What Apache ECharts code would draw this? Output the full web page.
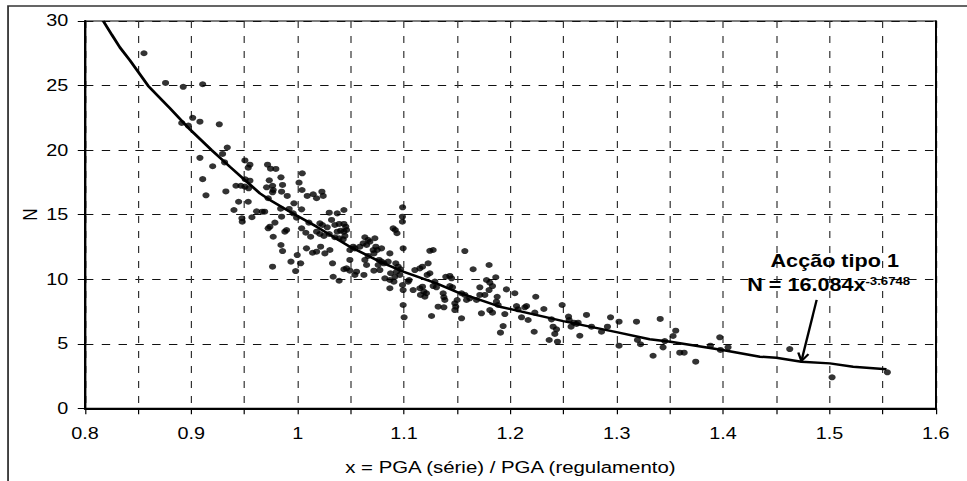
<!DOCTYPE html>
<html>
<head>
<meta charset="utf-8">
<script src="https://cdn.jsdelivr.net/npm/echarts@6/dist/echarts.min.js"></script>
<style>
html,body{margin:0;padding:0;background:#fff;overflow:hidden;}
#wrap{width:967px;height:481px;overflow:hidden;position:relative;background:#fff;}
#chart{width:806px;height:481px;transform:scaleX(1.2);transform-origin:0 0;}
</style>
</head>
<body>
<div id="wrap"><div id="chart"></div></div>
<script>
// ---- data ----
const pgaRatio = [
0.8555,0.8758,0.8924,0.9107,0.891,0.8972,0.9013,0.9081,0.9263,0.9338,0.9294,0.9081,0.9313,0.9201,0.9107,0.9325,0.9138,0.9504,0.9551,0.9535,
0.9507,0.9551,0.942,0.9466,0.9504,0.9539,0.9445,0.9535,0.9401,0.9476,0.9479,0.957,0.9614,
0.9717,0.9745,0.9795,0.9843,0.9733,0.9708,0.9764,0.977,0.9764,0.9858,0.9849,0.9902,0.9723,0.9739,0.9723,0.9786,0.977,0.9843,0.9858,0.9764,
0.984,0.9849,0.992,0.9965,0.9958,0.9896,0.988,1.0043,1.0013,1.0041,1.009,1.0146,1.0178,1.0228,1.024,1.0037,0.999,1.0037,1.0077,1.0122,
1.0083,1.014,1.0178,1.0216,1.0256,0.9996,0.9937,1.0028,0.9981,1.0209,1.0297,1.0372,1.0435,0.9667,0.969,1.0987,1.0985,1.0985,1.0106,1.0233,
1.0178,1.0209,1.0278,1.0297,1.0247,1.0319,1.035,1.039,1.0372,1.0404,1.0435,1.0452,1.0435,1.046,1.0444,1.0428,1.035,1.039,1.0918,1.0934,
1.0632,1.0663,1.0616,1.0648,1.0585,1.0538,1.0491,1.0522,1.0726,1.0735,1.0748,1.071,1.0717,1.0303,1.0328,1.0334,1.039,1.0435,1.046,1.0491,
1.0538,1.0554,1.0623,1.0717,1.0757,1.0766,1.0632,1.0663,1.0648,1.0491,
1.0679,1.0789,1.0898,1.0992,1.0992,1.1001,1.0867,1.0789,1.0811,1.0851,1.0773,1.082,1.0867,1.0905,1.0914,1.0874,1.093,1.0961,1.0968,1.0945,
1.0923,1.0867,1.0992,1.0986,1.1039,1.1048,1.1086,1.1149,1.1174,1.1187,1.1155,1.1196,1.1211,1.1102,1.1149,1.1174,1.1227,1.1243,1.1218,1.1243,
1.1274,1.1259,1.129,1.1274,1.1305,1.1321,1.1368,1.1375,1.1384,1.1375,1.1393,1.1431,1.1447,1.1431,1.1456,1.1478,1.1487,1.1478,1.15,1.1541,
1.1572,1.1588,1.1541,1.1572,1.165,1.1619,1.1682,1.1713,1.176,1.18,1.1713,1.1776,1.1807,1.1863,1.18,1.1728,1.1807,1.1832,1.1869,1.1885,
1.1832,1.1963,1.2042,1.1876,1.2058,1.2073,1.2136,1.2152,1.2105,1.2167,1.2239,1.223,1.2224,1.2315,1.2387,1.2402,1.2418,1.2434,1.2365,1.2443,
1.2487,1.2547,1.2553,1.2571,1.2597,1.2622,1.2637,1.2653,1.2716,1.2763,1.2857,1.2913,1.2942,1.3022,1.3022,1.3186,1.3195,1.3224,1.1948,1.1932,1.1907,
1.3409,1.3342,1.3436,1.3452,1.353,1.3555,1.3593,1.3634,1.3743,1.3881,1.3969,1.3975,1.4047,1.4627,1.5025,1.5545
];
const nCycles = [
27.5,25.2,24.9,25.1,22.1,21.9,22.5,22.2,22.0,20.2,19.7,19.4,19.05,18.75,17.75,16.8,16.5,19.2,18.87,18.64,
17.74,17.63,17.24,17.24,17.17,17.04,16.0,16.0,15.36,14.72,14.45,14.8,15.26,
18.87,18.56,18.54,17.89,17.66,17.12,17.24,16.91,16.73,17.3,16.78,16.45,16.27,14.07,13.94,14.38,13.29,12.65,12.18,10.97,
15.46,14.84,15.44,15.88,15.1,13.81,13.68,18.2,17.48,16.91,16.45,16.58,16.27,16.78,16.45,15.41,14.76,13.94,13.6,13.29,
12.39,12.05,12.13,12.52,12.0,11.87,11.36,11.23,10.63,14.33,15.15,15.1,15.36,15.23,15.23,15.57,14.84,14.45,14.38,14.2,
13.68,13.5,14.02,13.5,13.35,14.59,14.2,14.28,13.68,13.76,13.68,14.07,14.28,13.81,13.35,13.09,13.25,13.17,13.81,13.56,
13.25,13.04,12.78,12.65,12.52,12.39,12.26,12.52,13.17,12.52,12.26,12.26,12.0,12.26,11.23,10.19,9.88,10.77,10.84,10.66,
10.33,10.58,10.33,10.66,11.1,11.49,11.49,11.8,11.1,11.49,
12.9,12.39,13.94,12.39,8.0,7.05,12.0,11.36,11.23,11.36,10.71,10.07,9.94,9.81,10.19,10.46,10.58,10.33,10.77,10.97,
11.23,9.3,9.16,9.55,9.81,9.94,9.16,9.3,9.42,9.03,8.78,8.64,8.91,10.71,10.84,10.97,11.23,10.46,10.33,12.2,
12.26,7.15,9.81,9.47,9.37,7.87,8.91,8.6,8.39,7.82,10.19,10.25,10.07,9.47,9.37,8.13,7.87,7.61,8.39,8.91,
8.78,8.39,6.97,12.18,10.77,8.52,8.39,8.78,8.78,9.16,9.37,9.94,9.73,10.15,11.1,7.36,7.61,7.41,8.26,8.0,
9.47,9.21,8.91,8.64,7.92,7.67,7.82,7.92,7.05,6.84,8.64,7.41,5.93,7.69,6.89,6.32,5.76,6.12,5.29,5.16,
8.0,7.1,6.84,6.32,6.63,6.53,6.63,5.62,7.23,6.32,5.93,6.32,7.05,6.71,4.85,6.71,5.29,4.96,7.3,6.37,5.86,
6.92,4.07,4.72,5.21,5.6,6.01,4.31,4.31,3.61,4.85,5.5,4.52,4.72,4.59,2.4,2.79
];
// trend curve as drawn in the picture
const curveX = [0.8172,0.8255,0.8329,0.8423,0.8595,0.8799,0.8987,0.9191,0.9363,0.9504,0.9645,0.9739,0.9927,1.0178,1.0491,1.0773,1.0992,1.1305,1.15,1.1901,1.2497,1.2998,1.331,1.3506,1.3995,1.4346,1.45,1.4737,1.5004,1.5223,1.5537];
const curveN = [30.0,28.9,27.95,26.95,24.97,23.24,21.6,20.0,18.71,17.68,16.65,16.13,15.23,14.07,12.52,11.36,10.58,9.68,9.0,7.87,6.75,5.9,5.35,5.16,4.52,4.0,3.92,3.61,3.48,3.22,3.02];

const xTickLabels = ['0.8','0.9','1','1.1','1.2','1.3','1.4','1.5','1.6'];
const yTickLabels = ['0','5','10','15','20','25','30'];
const xTitle = 'x = PGA (série) / PGA (regulamento)';
const yTitle = 'N';
const annotTitle = 'Acção tipo 1';
const annotEq = 'N = 16.084x';
const annotExp = '-3.6748';
// annotation anchors in data units
const arrowFrom = [1.488, 8.4];
const arrowTo = [1.4737, 3.66];
const titleAt = [1.505, 11.45];
const eqAt = [1.5339, 9.57];
const expAt = [1.5339, 9.85];

// ---- chart ----
const FF = "'Liberation Sans', Arial, sans-serif";
const chart = echarts.init(document.getElementById('chart'), null, {renderer: 'svg'});
const scatterData = pgaRatio.map((x, i) => [x, nCycles[i]]);
const curveData = curveX.map((x, i) => [x, curveN[i]]);

chart.setOption({
  animation: false,
  backgroundColor: '#fff',
  grid: {left: 70.8, right: 26.2, top: 21, bottom: 72.7, show: true, borderColor: '#000', borderWidth: 1},
  xAxis: {
    type: 'value', min: 0.8, max: 1.6, interval: 0.05,
    name: xTitle, nameLocation: 'middle', nameGap: 50,
    nameTextStyle: {fontSize: 17, color: '#000', fontFamily: FF},
    axisLine: {show: true, onZero: false, lineStyle: {color: '#000', width: 2}},
    axisTick: {show: true, length: 6, lineStyle: {color: '#000', width: 1}},
    axisLabel: {
      fontSize: 16.5, color: '#000', fontFamily: FF, margin: 17,
      formatter: v => { const i = Math.round((v - 0.8) * 20); return i % 2 === 0 ? xTickLabels[i / 2] : ''; }
    },
    splitLine: {show: true, lineStyle: {type: [7, 8], color: '#333', width: 1}}
  },
  yAxis: [{
    type: 'value', min: 0, max: 30, interval: 5,
    axisLine: {show: true, onZero: false, lineStyle: {color: '#000', width: 2}},
    axisTick: {show: true, length: 6, lineStyle: {color: '#000', width: 1}},
    axisLabel: {fontSize: 16.5, color: '#000', fontFamily: FF, margin: 14,
      formatter: v => yTickLabels[Math.round(v / 5)]},
    splitLine: {show: true, lineStyle: {type: [7, 7], color: '#111', width: 1}}
  }, {
    type: 'value', min: 0, max: 30, interval: 5, position: 'right',
    axisLine: {show: true, lineStyle: {color: '#000', width: 1.6}},
    axisTick: {show: false}, axisLabel: {show: false}, splitLine: {show: false}
  }],
  series: [{
    type: 'scatter', data: scatterData, symbol: 'circle', symbolSize: 6,
    itemStyle: {color: '#000'}, z: 2
  }, {
    type: 'line', data: curveData, symbol: 'none', smooth: false,
    lineStyle: {color: '#000', width: 2.5}, z: 3
  }]
});

function px(p) { return chart.convertToPixel({xAxisIndex: 0, yAxisIndex: 0}, p); }
const a0 = px(arrowFrom), a1 = px(arrowTo);
const dx = a0[0] - a1[0], dy = a0[1] - a1[1];
const len = Math.hypot(dx, dy), ux = dx / len, uy = dy / len;
const hl = 9, ang = 0.5;
const h1 = [a1[0] + hl * (ux * Math.cos(ang) - uy * Math.sin(ang)), a1[1] + hl * (ux * Math.sin(ang) + uy * Math.cos(ang))];
const h2 = [a1[0] + hl * (ux * Math.cos(-ang) - uy * Math.sin(-ang)), a1[1] + hl * (ux * Math.sin(-ang) + uy * Math.cos(-ang))];
const t = px(titleAt), e = px(eqAt), s = px(expAt);
const yMid = px([0.8, 15]);

chart.setOption({
  graphic: [
    {type: 'rect', shape: {x: 6.7, y: 6, width: 3000, height: 3000}, style: {fill: 'none', stroke: '#333', lineWidth: 1.5}, silent: true, z: 100},
    {type: 'text', x: yMid[0] - 46, y: yMid[1], rotation: Math.PI / 2,
      style: {text: yTitle, font: '17px ' + FF, fill: '#000', textAlign: 'center', textVerticalAlign: 'middle'}, z: 100},
    {type: 'line', shape: {x1: a0[0], y1: a0[1], x2: a1[0], y2: a1[1]}, style: {stroke: '#000', lineWidth: 2}, z: 100},
    {type: 'polyline', shape: {points: [h1, a1, h2]}, style: {stroke: '#000', lineWidth: 2, fill: 'none'}, z: 100},
    {type: 'text', x: t[0], y: t[1], style: {text: annotTitle, font: 'bold 18px ' + FF, fill: '#000', textAlign: 'center', textVerticalAlign: 'middle'}, z: 100},
    {type: 'text', x: e[0], y: e[1], style: {text: annotEq, font: 'bold 18px ' + FF, fill: '#000', textAlign: 'right', textVerticalAlign: 'middle'}, z: 100},
    {type: 'text', x: s[0], y: s[1], style: {text: annotExp, font: 'bold 11px ' + FF, fill: '#000', textAlign: 'left', textVerticalAlign: 'middle'}, z: 100}
  ]
});
</script>
</body>
</html>
